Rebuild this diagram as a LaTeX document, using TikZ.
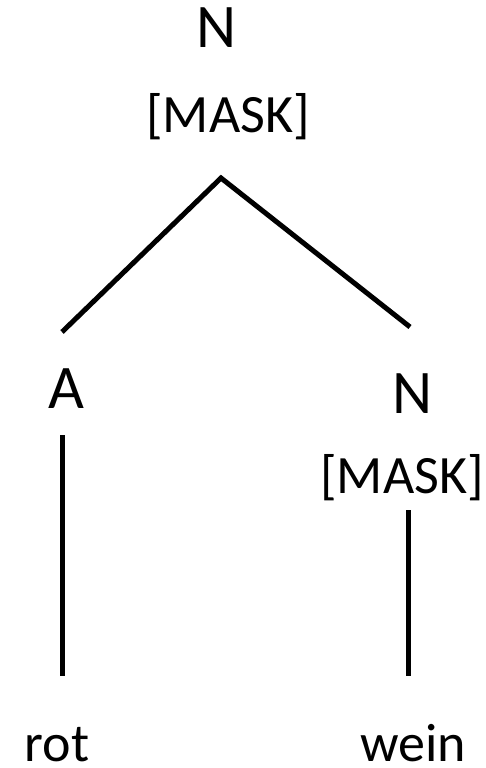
\documentclass[tikz,border=0pt]{standalone}
\usepackage{fontspec}
\setmainfont{Carlito}
\begin{document}
\begin{tikzpicture}[x=1pt,y=-1pt,
  big/.style={inner sep=0pt,anchor=base,font=\fontsize{62}{62}\selectfont},
  mid/.style={inner sep=0pt,anchor=base,font=\fontsize{54}{54}\selectfont},
  edge/.style={line width=5pt,black}]
\useasboundingbox (0,0) rectangle (485,768);
\node[big] (n0) at (217,48) {N};
\node[mid] (m0) at (228,132) {[MASK]};
\node[big] (a1) at (66,408) {A};
\node[big] (n1) at (413,413) {N};
\node[mid] (m1) at (402,493) {[MASK]};
\node[mid] (rot) at (57,761) {rot};
\node[mid] (wein) at (413,761) {wein};
\coordinate (top) at (221,178);
\coordinate (l) at (62,332);
\coordinate (r) at (410,327);
\coordinate (la) at (62,435);
\coordinate (lb) at (62,676);
\coordinate (ra) at (408,510);
\coordinate (rb) at (408,676);
\draw[edge] (l) -- (top) -- (r);
\draw[edge] (la) -- (lb);
\draw[edge] (ra) -- (rb);
\end{tikzpicture}
\end{document}
